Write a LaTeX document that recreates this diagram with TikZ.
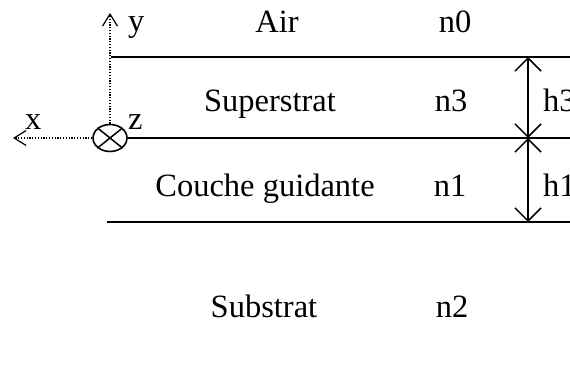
\documentclass[tikz,border=0pt]{standalone}
\usepackage{fontspec}
\setmainfont{Liberation Serif}
\usetikzlibrary{arrows.meta,shapes.geometric}

\begin{document}
\begin{tikzpicture}[
 x=1pt,y=-1pt,
 font=\fontsize{32.5}{38}\selectfont,
 txt/.style={anchor=base,inner sep=0pt},
 lbl/.style={anchor=base west,inner sep=0pt},
 couche/.style={line width=1.8pt},
 axe/.style={dash pattern=on 1.2pt off 1.6pt,line width=1.2pt,-{Straight Barb[length=12pt,width=15pt]}},
 cote/.style={line width=1.5pt,{Straight Barb[length=13pt,width=26pt]}-{Straight Barb[length=13pt,width=26pt]}}
]
\useasboundingbox (0,0) rectangle (570,387);

% repere
\node[draw,ellipse,line width=1.6pt,minimum width=34pt,minimum height=27pt,inner sep=0pt] (orig) at (110,138) {};
\draw[line width=1.5pt] (orig.north west)--(orig.south east) (orig.north east)--(orig.south west);
\coordinate (xbout) at (13,138);
\coordinate (ybout) at (110,13);
\draw[axe] (orig.west)--(xbout); \draw[axe] (orig.north)--(ybout);
\node[lbl] (lx) at (25,130) {x};
\node[lbl] (lz) at (128,130) {z};
\node[lbl] (ly) at (128,32) {y};

% couches
\coordinate (a0) at (111,57); \coordinate (a1) at (570,57);
\coordinate (b1) at (570,138);
\coordinate (c0) at (107,222); \coordinate (c1) at (570,222);
\draw[couche] (a0)--(a1); \draw[couche] (orig.east)--(b1); \draw[couche] (c0)--(c1);

\node[txt] (air) at (277,33) {Air};
\node[txt] (n0) at (455,33) {n0};
\node[txt] (sup) at (270,112) {Superstrat};
\node[txt] (n3) at (451,112) {n3};
\node[txt] (cg) at (265,197) {Couche guidante};
\node[txt] (n1) at (450,197) {n1};
\node[txt] (sub) at (264,317) {Substrat};
\node[txt] (n2) at (452,317) {n2};

% epaisseurs
\coordinate (h0) at (528,57); \coordinate (hm) at (528,138); \coordinate (hb) at (528,222);
\draw[cote] (h0)--(hm); \draw[cote] (hm)--(hb);
\node[lbl] (h3) at (543,112) {h3};
\node[lbl] (h1) at (543,197) {h1};
\end{tikzpicture}
\end{document}
